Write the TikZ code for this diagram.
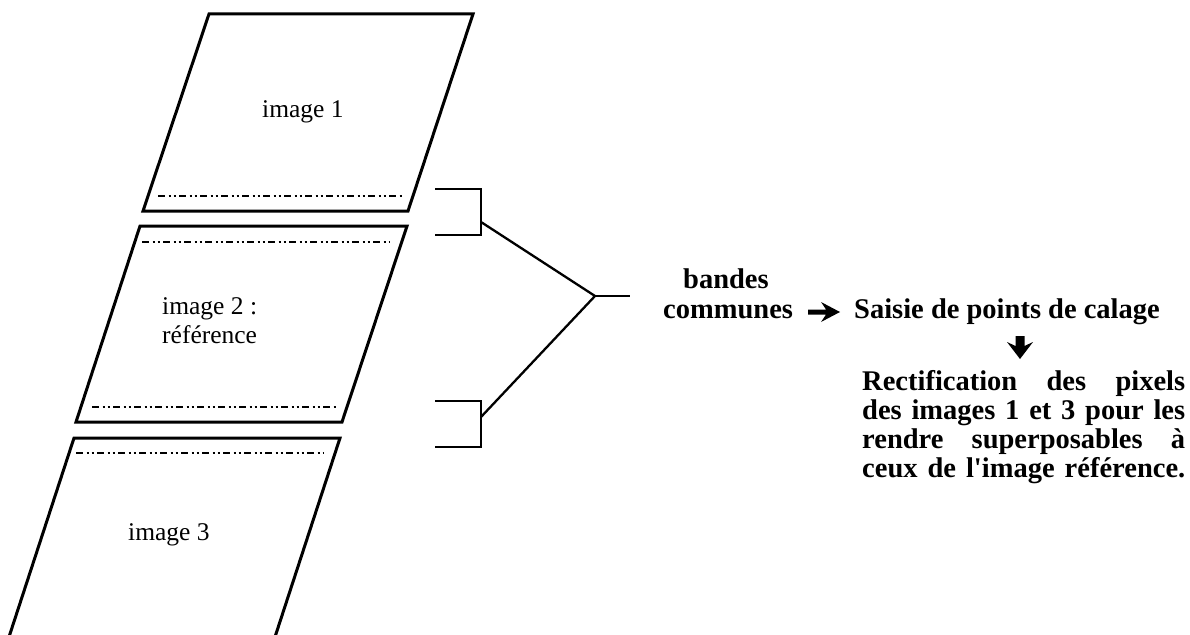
\documentclass[tikz,border=0pt]{standalone}
\usepackage{fontspec}
\setmainfont{Liberation Serif}[Ligatures=TeXOff]
\begin{document}
\begin{tikzpicture}[x=1pt,y=-1pt,
  frame/.style={line width=3pt,line join=miter},
  band/.style={line width=1.6pt,dash pattern=on 7pt off 3.5pt on 2pt off 3pt on 2pt off 3.5pt},
  brk/.style={line width=2.3pt},
  lbl/.style={inner sep=0pt,anchor=base west,font=\fontsize{25.5}{29}\selectfont},
  rtxt/.style={inner sep=0pt,anchor=base west,font=\fontsize{28.5}{29}\selectfont\bfseries},
  arr/.style={fill=black,draw=none}]
\useasboundingbox (0,0) rectangle (1190,634);
% image 1
\coordinate (p1a) at (209,14); \coordinate (p1b) at (473,14);
\coordinate (p1c) at (408,211); \coordinate (p1d) at (143,211);
\draw[frame] (p1a)--(p1b)--(p1c)--(p1d)--cycle;
\coordinate (b1l) at (158,196); \coordinate (b1r) at (404,196);
\draw[band] (b1l)--(b1r);
\node[lbl] (t1) at (262,117) {image 1};
% image 2
\coordinate (p2a) at (140,226); \coordinate (p2b) at (407,226);
\coordinate (p2c) at (342,422); \coordinate (p2d) at (76,422);
\draw[frame] (p2a)--(p2b)--(p2c)--(p2d)--cycle;
\coordinate (b2l) at (142,242); \coordinate (b2r) at (390,242);
\draw[band] (b2l)--(b2r);
\coordinate (b3l) at (92,407); \coordinate (b3r) at (338,407);
\draw[band] (b3l)--(b3r);
\node[lbl] (t2a) at (162,314) {image 2 :};
\node[lbl] (t2b) at (162,343) {référence};
% image 3
\coordinate (p3a) at (74,438); \coordinate (p3b) at (340,438);
\coordinate (p3c) at (274,640); \coordinate (p3d) at (8,640);
\draw[frame] (p3d)--(p3a)--(p3b)--(p3c);
\coordinate (b4l) at (76,453); \coordinate (b4r) at (323,453);
\draw[band] (b4l)--(b4r);
\node[lbl] (t3) at (128,540) {image 3};
% brackets
\coordinate (k1a) at (435,189); \coordinate (k1b) at (481,189);
\coordinate (k1c) at (481,235); \coordinate (k1d) at (435,235);
\coordinate (k1m) at (481,222);
\draw[brk] (k1a)--(k1b)--(k1c)--(k1d);
\coordinate (k2a) at (435,401); \coordinate (k2b) at (481,401);
\coordinate (k2c) at (481,447); \coordinate (k2d) at (435,447);
\coordinate (k2m) at (481,417);
\draw[brk] (k2a)--(k2b)--(k2c)--(k2d);
\coordinate (j) at (595,296); \coordinate (js) at (630,296);
\draw[brk] (k1m)--(j)--(k2m);
\draw[brk] (j)--(js);
% right texts
\node[rtxt] (bd) at (683,288) {bandes};
\node[rtxt] (cm) at (663,318) {communes};
\node[rtxt] (sa) at (854,318) {Saisie de points de calage};
\fill[arr] (808,309.5)--(826,309.5)--(821,302)--(840,312)--(821,322)--(826,314.5)--(808,314.5)--cycle;
\fill[arr] (1015.5,336)--(1024.5,336)--(1024.5,346)--(1033,342)--(1020,359)--(1007,342)--(1015.5,346)--cycle;
\node[rtxt] (r1) at (862,390) {\makebox[323pt][s]{Rectification des pixels}};
\node[rtxt] (r2) at (862,419) {\makebox[323pt][s]{des images 1 et 3 pour les}};
\node[rtxt] (r3) at (862,448) {\makebox[323pt][s]{rendre superposables à}};
\node[rtxt] (r4) at (862,477) {\makebox[323pt][s]{ceux de l'image référence.}};
\end{tikzpicture}
\end{document}
